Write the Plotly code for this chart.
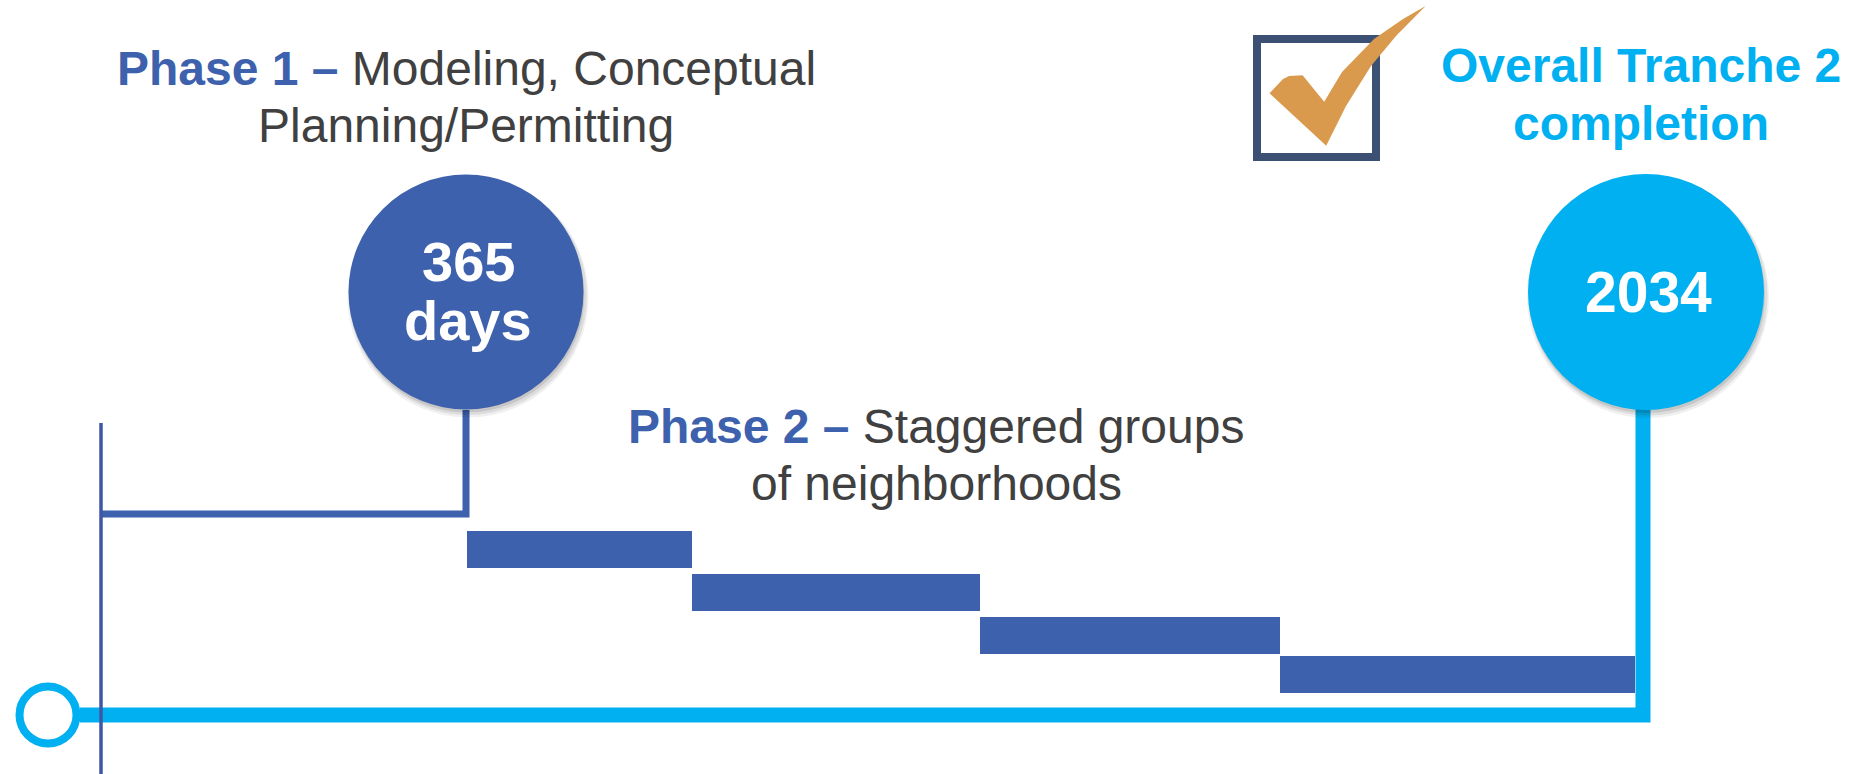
import plotly.graph_objects as go

# ---------------- data ----------------
phase1_title = "Phase 1 –"
phase1_desc = ["Modeling, Conceptual", "Planning/Permitting"]
phase1_duration = ["365", "days"]
phase2_title = "Phase 2 –"
phase2_desc = ["Staggered groups", "of neighborhoods"]
completion_label = ["Overall Tranche 2", "completion"]
completion_year = "2034"

# staggered neighbourhood groups (timeline units)
group_names = ["Group 1", "Group 2", "Group 3", "Group 4"]
group_start = [467, 692, 980, 1280]
group_end = [692, 980, 1280, 1635]
group_row = [549.5, 592.5, 635, 674]

timeline_start = 101
phase1_end = 466
completion_x = 1643

# ---------------- styles ----------------
W, H = 1849, 774
BLUE = "#3D61AD"
CYAN = "#00B0F0"
GRAY = "#404040"
FONT = "Liberation Sans, Arial, sans-serif"

fig = go.Figure()

# main cyan timeline
fig.add_trace(go.Scatter(
    x=[80, completion_x, completion_x], y=[715, 715, 409], mode="lines",
    line=dict(color=CYAN, width=15), hoverinfo="skip", showlegend=False))

# phase 1 bracket
fig.add_trace(go.Scatter(
    x=[timeline_start, phase1_end, phase1_end], y=[514, 514, 410], mode="lines",
    line=dict(color=BLUE, width=7), hoverinfo="skip", showlegend=False))

# thin start line
fig.add_trace(go.Scatter(
    x=[timeline_start, timeline_start], y=[423, 774], mode="lines",
    line=dict(color="#3F57A6", width=3.5), hoverinfo="skip", showlegend=False))

# phase 2 groups
fig.add_trace(go.Bar(
    y=group_row, base=group_start,
    x=[e - s for s, e in zip(group_start, group_end)],
    orientation="h", width=37, marker=dict(color=BLUE, line=dict(width=0)),
    text=group_names, textposition="none", hoverinfo="text", showlegend=False))

shapes = []


def add_circle(cx, cy, r, color, shadow=True):
    if shadow:
        for dx, dy, dr, op in [(2, 5, 3, 0.06), (2, 4, 1.5, 0.08), (1, 3, 0, 0.10)]:
            shapes.append(dict(type="circle", xref="x", yref="y",
                               x0=cx - r - dr + dx, x1=cx + r + dr + dx,
                               y0=cy - r - dr + dy, y1=cy + r + dr + dy,
                               fillcolor=f"rgba(0,0,0,{op})", line=dict(width=0),
                               layer="above"))
    shapes.append(dict(type="circle", xref="x", yref="y",
                       x0=cx - r, x1=cx + r, y0=cy - r, y1=cy + r,
                       fillcolor=color, line=dict(width=0), layer="above"))


add_circle(phase1_end, 292, 117.5, BLUE)
add_circle(1646, 292, 118, CYAN)

# open start circle
shapes.append(dict(type="circle", xref="x", yref="y",
                   x0=48 - 28.5, x1=48 + 28.5, y0=715 - 28.5, y1=715 + 28.5,
                   fillcolor="white", line=dict(color=CYAN, width=8), layer="above"))

# checkbox
shapes.append(dict(type="rect", xref="x", yref="y",
                   x0=1257, x1=1376, y0=39, y1=157,
                   fillcolor="rgba(0,0,0,0)", line=dict(color="#3B5072", width=8),
                   layer="above"))

check_pts = [(1269.5, 93.3), (1283, 79), (1289, 76), (1302.6, 75.3), (1324.2, 101.7),
             (1342, 72), (1374, 39), (1403, 19), (1425.6, 6),
             (1396, 36), (1371, 66), (1346, 106), (1326.2, 145.7)]
path = "M " + " L ".join(f"{x},{y}" for x, y in check_pts) + " Z"
shapes.append(dict(type="path", xref="x", yref="y", path=path,
                   fillcolor="#D99A4E", line=dict(width=0), layer="above"))

fig.update_layout(shapes=shapes)

ann = []


def text(x, y, s, size, color=GRAY, bold=False):
    if bold:
        s = f"<b>{s}</b>"
    ann.append(dict(x=x, y=y, xref="x", yref="y", text=s, showarrow=False,
                    xanchor="center", yanchor="middle",
                    font=dict(family=FONT, size=size, color=color)))


text(phase1_end, 68, f"<span style='color:{BLUE}'><b>{phase1_title}</b></span> {phase1_desc[0]}", 48)
text(phase1_end, 125, phase1_desc[1], 48)
text(936, 426, f"<span style='color:{BLUE}'><b>{phase2_title}</b></span> {phase2_desc[0]}", 48)
text(936, 483, phase2_desc[1], 48)
text(1641, 65, completion_label[0], 48, CYAN, True)
text(1641, 123, completion_label[1], 48, CYAN, True)
text(468, 261, phase1_duration[0], 56, "white", True)
text(468, 320, phase1_duration[1], 56, "white", True)
text(1648, 292, completion_year, 57, "white", True)

fig.update_layout(
    annotations=ann,
    width=W, height=H,
    margin=dict(l=0, r=0, t=0, b=0),
    paper_bgcolor="white", plot_bgcolor="white",
    xaxis=dict(range=[0, W], visible=False, fixedrange=True),
    yaxis=dict(range=[H, 0], visible=False, fixedrange=True),
    bargap=0,
)

fig.write_html("out.html", config={"displayModeBar": False})
